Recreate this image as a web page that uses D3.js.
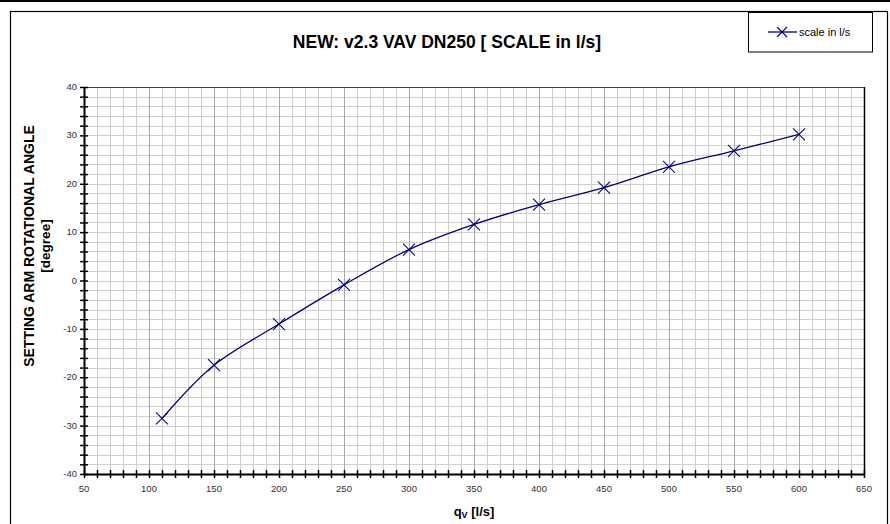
<!DOCTYPE html>
<html>
<head>
<meta charset="utf-8">
<script src="https://cdn.jsdelivr.net/npm/d3@7"></script>
<style>
  html, body { margin: 0; padding: 0; background: #fff; }
  svg { display: block; font-family: "Liberation Sans", Arial, sans-serif; }
</style>
</head>
<body>
<svg id="chart" width="890" height="524"></svg>
<script>
const flowValues = [110, 150, 200, 250, 300, 350, 400, 450, 500, 550, 600];
const angleValues = [-28.5, -17.5, -9.0, -0.9, 6.4, 11.6, 15.7, 19.2, 23.5, 26.8, 30.2];
const xTickLabels = [50, 100, 150, 200, 250, 300, 350, 400, 450, 500, 550, 600, 650];
const yTickLabels = [-40, -30, -20, -10, 0, 10, 20, 30, 40];
const titleText = "NEW: v2.3 VAV DN250 [ SCALE in l/s]";
const seriesName = "scale in l/s";
const yLabel1 = "SETTING ARM ROTATIONAL ANGLE";
const yLabel2 = "[degree]";

const svg = d3.select("#chart");
const W = 890, H = 524;
const L = 84, R = 864, T = 87, B = 474;

// outer frames
svg.append("line").attr("x1", 0).attr("x2", W).attr("y1", 1).attr("y2", 1)
  .attr("stroke", "#000").attr("stroke-width", 2);
svg.append("rect").attr("x", 10.5).attr("y", 11.5).attr("width", 877).attr("height", 530)
  .attr("fill", "#fff").attr("stroke", "#000").attr("stroke-width", 1.2);

const x = d3.scaleLinear().domain([50, 650]).range([L, R]);
const y = d3.scaleLinear().domain([-40, 40]).range([B, T]);

// grid
const g = svg.append("g");
const xMinor = d3.range(60, 650, 10);
const yMinor = d3.range(-38, 40, 2);
g.selectAll(".hy").data(yMinor).join("line")
  .attr("y1", d => Math.round(y(d)) + 0.5).attr("y2", d => Math.round(y(d)) + 0.5)
  .attr("x1", L).attr("x2", R)
  .attr("stroke", "#cfcfcf").attr("stroke-width", 1);
g.selectAll(".vx").data(xMinor).join("line")
  .attr("x1", d => Math.round(x(d)) + 0.5).attr("x2", d => Math.round(x(d)) + 0.5)
  .attr("y1", T).attr("y2", B)
  .attr("stroke", d => d % 50 === 0 ? "#a8a8a8" : "#cfcfcf").attr("stroke-width", 1);

// plot border top/right
svg.append("line").attr("x1", L).attr("x2", R).attr("y1", T + 0.5).attr("y2", T + 0.5)
  .attr("stroke", "#404040").attr("stroke-width", 1.2);
svg.append("line").attr("x1", R + 0.5).attr("x2", R + 0.5).attr("y1", T).attr("y2", B)
  .attr("stroke", "#000").attr("stroke-width", 1.5);

// axes
const xAxis = d3.axisBottom(x).tickValues(d3.range(50, 651, 10)).tickSize(0).tickFormat("");
const xAx = svg.append("g").attr("transform", `translate(0,${B})`).call(xAxis);
xAx.select(".domain").attr("stroke", "#000").attr("stroke-width", 2);
xAx.selectAll(".tick line").attr("y1", -4).attr("y2", 4).attr("stroke", "#000").attr("stroke-width", 1.5);
svg.append("g").selectAll("text").data(xTickLabels).join("text")
  .attr("x", d => x(d)).attr("y", B + 18).attr("text-anchor", "middle")
  .attr("font-size", 9.5).attr("fill", "#333").text(d => d);

const yAxis = d3.axisLeft(y).tickValues(d3.range(-40, 41, 2)).tickSize(0).tickFormat("");
const yAx = svg.append("g").attr("transform", `translate(${L},0)`).call(yAxis);
yAx.select(".domain").attr("stroke", "#000").attr("stroke-width", 2);
yAx.selectAll(".tick line").attr("x1", -4).attr("x2", 4).attr("stroke", "#000").attr("stroke-width", 1.5);
svg.append("g").selectAll("text").data(yTickLabels).join("text")
  .attr("x", L - 7).attr("y", d => y(d) + 3).attr("text-anchor", "end")
  .attr("font-size", 9.5).attr("fill", "#333").text(d => d);

// line
const pts = flowValues.map((v, i) => [v, angleValues[i]]);
svg.append("path").datum(pts)
  .attr("d", d3.line().x(d => x(d[0])).y(d => y(d[1])).curve(d3.curveCardinal.tension(0)))
  .attr("fill", "none").attr("stroke", "#000080").attr("stroke-width", 1.3);

const ms = 6;
function cross(sel) {
  sel.append("line").attr("x1", -ms).attr("y1", -ms).attr("x2", ms).attr("y2", ms);
  sel.append("line").attr("x1", -ms).attr("y1", ms).attr("x2", ms).attr("y2", -ms);
  sel.selectAll("line").attr("stroke", "#000080").attr("stroke-width", 1.1);
}
svg.append("g").selectAll("g").data(pts).join("g")
  .attr("transform", d => `translate(${x(d[0])},${y(d[1])})`)
  .each(function() { cross(d3.select(this)); });

// title
svg.append("text").attr("x", 447).attr("y", 48).attr("text-anchor", "middle")
  .attr("font-size", 17.5).attr("font-weight", "bold").text(titleText);

// legend
svg.append("rect").attr("x", 748.5).attr("y", 12.5).attr("width", 124).attr("height", 39.5)
  .attr("fill", "#fff").attr("stroke", "#000").attr("stroke-width", 1);
svg.append("line").attr("x1", 768).attr("x2", 797).attr("y1", 32).attr("y2", 32)
  .attr("stroke", "#000080").attr("stroke-width", 1.3);
const lg = svg.append("g").attr("transform", "translate(782,32)");
lg.append("line").attr("x1", -5).attr("y1", -5).attr("x2", 5).attr("y2", 5);
lg.append("line").attr("x1", -5).attr("y1", 5).attr("x2", 5).attr("y2", -5);
lg.selectAll("line").attr("stroke", "#000080").attr("stroke-width", 1.1);
svg.append("text").attr("x", 799).attr("y", 36).attr("font-size", 11).attr("fill", "#000").text(seriesName);

// y labels
svg.append("text").attr("transform", "translate(34,246) rotate(-90)").attr("text-anchor", "middle")
  .attr("font-size", 14).attr("font-weight", "bold").text(yLabel1);
svg.append("text").attr("transform", "translate(50,246) rotate(-90)").attr("text-anchor", "middle")
  .attr("font-size", 13.5).attr("font-weight", "bold").text(yLabel2);

// x label
const xl = svg.append("text").attr("x", 474).attr("y", 516).attr("text-anchor", "middle")
  .attr("font-size", 13).attr("font-weight", "bold");
xl.append("tspan").text("q");
xl.append("tspan").attr("font-size", 9).attr("dy", 2).text("V");
xl.append("tspan").attr("dy", -2).text(" [l/s]");
</script>
</body>
</html>
